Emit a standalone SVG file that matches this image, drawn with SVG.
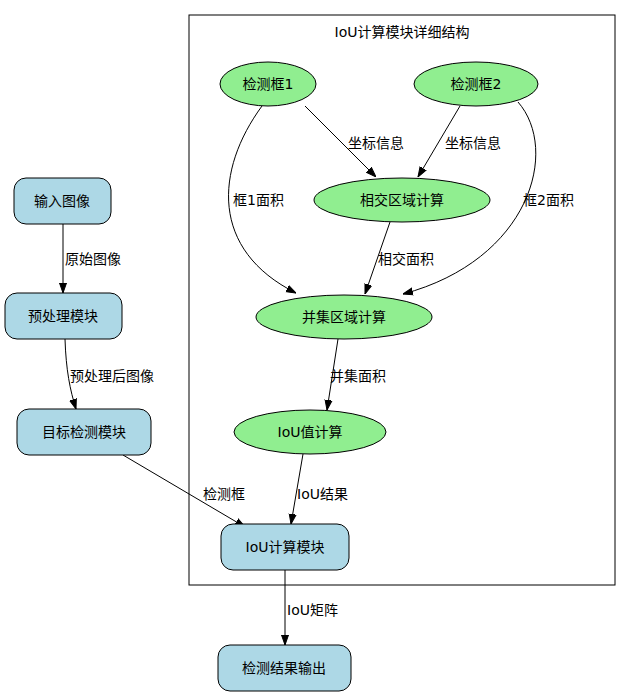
<svg xmlns="http://www.w3.org/2000/svg" width="632" height="700" viewBox="0 0 632 700">
<style>
text{font-family:"DejaVu Sans","Noto Sans CJK SC",sans-serif;font-size:14px;fill:#000}
.c{text-anchor:middle}
.b{fill:#add8e6;stroke:#000;stroke-width:1}
.g{fill:#90ee90;stroke:#000;stroke-width:1}
.e{fill:none;stroke:#000;stroke-width:1;marker-end:url(#a)}
</style>
<defs><marker id="a" viewBox="0 0 10 10" refX="10" refY="5" markerWidth="10" markerHeight="10" markerUnits="userSpaceOnUse" orient="auto"><path d="M0,1.5L10,5L0,8.5z" fill="#000" stroke="#000"/></marker></defs>
<rect width="632" height="700" fill="#fff"/>
<g id="cluster"><rect x="189" y="15" width="426" height="570" fill="none" stroke="#000"/><text class="c" x="402" y="37">IoU计算模块详细结构</text></g>
<g id="edges">
<path class="e" d="M63,224L63,293"/><text x="65" y="264">原始图像</text>
<path class="e" d="M65,339C66,370 70,390 76,409"/><text x="70" y="381">预处理后图像</text>
<path class="e" d="M123,455L245,527"/><text x="203" y="499">检测框</text>
<path class="e" d="M303,454L291,524"/><text x="297" y="499">IoU结果</text>
<path class="e" d="M285,570L285,645"/><text x="287" y="615">IoU矩阵</text>
<path class="e" d="M305,106L376,177"/><text x="348" y="148">坐标信息</text>
<path class="e" d="M460,106L418,177"/><text x="445" y="148">坐标信息</text>
<path class="e" d="M262,106C215,170 210,250 296,293"/><text x="233" y="205">框1面积</text>
<path class="e" d="M518,102C560,150 530,260 403,294"/><text x="523" y="205">框2面积</text>
<path class="e" d="M390,222L365,294"/><text x="378" y="264">相交面积</text>
<path class="e" d="M338,339L327,410"/><text x="330" y="381">并集面积</text>
</g>
<g id="n1"><rect class="b" x="14" y="178" width="97" height="46" rx="12"/><text class="c" x="62" y="206">输入图像</text></g>
<g id="n2"><rect class="b" x="5" y="293" width="117" height="46" rx="12"/><text class="c" x="63" y="321">预处理模块</text></g>
<g id="n3"><rect class="b" x="17" y="409" width="134" height="46" rx="12"/><text class="c" x="84" y="437">目标检测模块</text></g>
<g id="n4"><rect class="b" x="221" y="524" width="128" height="46" rx="12"/><text class="c" x="285" y="552">IoU计算模块</text></g>
<g id="n5"><rect class="b" x="218" y="645" width="133" height="46" rx="12"/><text class="c" x="284" y="673">检测结果输出</text></g>
<g id="k1"><ellipse class="g" cx="268" cy="84" rx="48" ry="22"/><text class="c" x="268" y="89">检测框1</text></g>
<g id="k2"><ellipse class="g" cx="476" cy="84" rx="62" ry="22"/><text class="c" x="476" y="89">检测框2</text></g>
<g id="inter"><ellipse class="g" cx="402" cy="200" rx="88" ry="22"/><text class="c" x="402" y="205">相交区域计算</text></g>
<g id="union"><ellipse class="g" cx="344" cy="317" rx="88" ry="22"/><text class="c" x="344" y="322">并集区域计算</text></g>
<g id="iou"><ellipse class="g" cx="310" cy="432" rx="76" ry="22"/><text class="c" x="310" y="437">IoU值计算</text></g>
</svg>
